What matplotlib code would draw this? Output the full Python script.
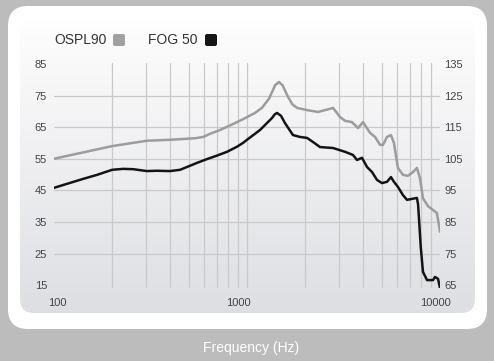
import matplotlib
matplotlib.use('Agg')
import matplotlib.pyplot as plt
import numpy as np
from matplotlib.patches import FancyBboxPatch
from matplotlib.ticker import LogLocator, NullFormatter
from matplotlib.transforms import ScaledTranslation

plt.rcParams['font.family'] = ['Liberation Sans', 'DejaVu Sans']

# OSPL90 (right axis, dB SPL)
ospl_f = [100, 200, 303, 399, 540, 592, 650, 725, 788, 953, 1100, 1195, 1300, 1348,
          1400, 1465, 1530, 1630, 1720, 1816, 2046, 2333, 2692, 2791, 3034, 3219,
          3499, 3760, 3990, 4339, 4607, 4891, 5069, 5312, 5569, 5774, 6053, 6427,
          6824, 7248, 7595, 7870, 8161, 8667, 9198, 9642, 10000]
ospl_v = [105.0, 109.0, 110.7, 111.0, 111.5, 111.9, 113.0, 114.1, 115.1, 117.5,
          119.5, 121.1, 124.0, 126.1, 128.3, 129.3, 128.2, 124.6, 122.2, 121.1,
          120.4, 119.8, 120.8, 121.1, 118.2, 117.0, 116.6, 114.7, 116.6, 113.2,
          111.9, 109.4, 109.4, 111.9, 112.5, 110.0, 102.1, 99.9, 99.6, 100.8,
          102.1, 98.9, 92.5, 90.0, 88.8, 87.8, 82.0]

# FOG 50 (left axis, dB)
fog_f = [100, 141, 167, 200, 228, 257, 303, 342, 399, 450, 489, 551, 621, 699, 788,
         887, 953, 1000, 1168, 1348, 1390, 1430, 1500, 1573, 1730, 1883, 2046, 2198,
         2389, 2791, 3219, 3541, 3716, 3943, 4186, 4444, 4717, 5004, 5312, 5569,
         5774, 6053, 6427, 6743, 7158, 7595, 7700, 7950, 8161, 8565, 9198, 9418,
         9767, 10000]
fog_v = [45.8, 48.6, 49.9, 51.5, 51.8, 51.7, 51.1, 51.2, 51.1, 51.5, 52.4, 53.7,
         54.9, 56.0, 57.2, 58.8, 60.0, 61.0, 64.1, 67.9, 69.0, 69.5, 68.6, 66.3,
         62.5, 61.9, 61.6, 60.3, 58.7, 58.4, 57.2, 56.2, 54.6, 55.3, 52.4, 50.8,
         48.3, 47.3, 47.7, 49.2, 47.7, 46.1, 43.5, 42.0, 42.3, 42.6, 40.5, 27.0,
         19.2, 16.6, 16.6, 17.6, 17.0, 14.1]

left_ticks = [15, 25, 35, 45, 55, 65, 75, 85]
right_ticks = [65, 75, 85, 95, 105, 115, 125, 135]
x_ticks = [100, 1000, 10000]
x_labels = ['100', '1000', '10000']

W, H = 494, 361
fig = plt.figure(figsize=(W / 100, H / 100), dpi=100, facecolor='#bcbcbc')

# background card in pixel coords
bg = fig.add_axes([0, 0, 1, 1])
bg.set_xlim(0, W)
bg.set_ylim(H, 0)
bg.axis('off')
card = FancyBboxPatch((8 + 20, 6 + 20), 479 - 40, 323 - 40,
                      boxstyle='round,pad=20', fc='white', ec='none')
bg.add_patch(card)
panel = FancyBboxPatch((20 + 14, 20 + 14), 455 - 28, 293 - 28,
                       boxstyle='round,pad=14', fc='none', ec='none')
bg.add_patch(panel)
grad = np.linspace(0, 1, 256).reshape(-1, 1)
top = np.array([0.995, 0.995, 0.995])
bot = np.array([0.870, 0.874, 0.890])
img = top + grad[..., None] * (bot - top)
im = bg.imshow(img, extent=(20, 475, 313, 20), aspect='auto', zorder=1)
im.set_clip_path(panel)

# legend
bg.text(54, 40, 'OSPL90', fontsize=10, color='#333333', va='center', ha='left', zorder=3)
bg.add_patch(FancyBboxPatch((114, 35), 10, 10, boxstyle='round,pad=1,rounding_size=2',
                            fc='#a0a0a0', ec='none', zorder=3))
bg.text(148, 40, 'FOG 50', fontsize=10, color='#333333', va='center', ha='left', zorder=3)
bg.add_patch(FancyBboxPatch((206, 35), 10, 10, boxstyle='round,pad=1,rounding_size=2',
                            fc='#151515', ec='none', zorder=3))
bg.text(251, 348, 'Frequency (Hz)', fontsize=10, color='white', ha='center', va='center')

# main chart
ax = fig.add_axes([54 / W, 1 - 288 / H, (440 - 54) / W, (288 - 63) / H])
ax.set_facecolor('none')
ax.set_xscale('log')
ax.set_xlim(100, 10000)
ax.set_ylim(14.1, 85.3)
ax.set_xticks(x_ticks, x_labels)
ax.xaxis.set_minor_locator(LogLocator(base=10, subs=range(2, 10)))
ax.xaxis.set_minor_formatter(NullFormatter())
ax.set_yticks(left_ticks)
ax.grid(True, which='both', axis='both', color='#c9c9c9', lw=0.9)
gl = ax.get_xgridlines()
gl[0].set_visible(False)
gl[-1].set_visible(False)
gy = ax.get_ygridlines()
gy[0].set_visible(False)
gy[-1].set_visible(False)
for s in ax.spines.values():
    s.set_visible(False)
ax.tick_params(which='both', length=0, labelsize=8, colors='#444444')
ax.tick_params(axis='y', pad=5)
ax.tick_params(axis='x', pad=7)
for lab, dx in zip(ax.get_xticklabels(), [3, -9, -5]):
    lab.set_transform(lab.get_transform() + ScaledTranslation(dx / 100, 0, fig.dpi_scale_trans))

ax.plot(fog_f, fog_v, color='#141414', lw=1.8, zorder=4, solid_joinstyle='round')

ax2 = ax.twinx()
ax2.set_ylim(14.1 + 50, 85.3 + 50)
ax2.set_yticks(right_ticks)
for s in ax2.spines.values():
    s.set_visible(False)
ax2.tick_params(length=0, labelsize=8, colors='#444444', pad=3)
ax2.plot(ospl_f, ospl_v, color='#9c9c9c', lw=1.8, solid_joinstyle='round')

fig.savefig('out.png', dpi=100, facecolor=fig.get_facecolor())
